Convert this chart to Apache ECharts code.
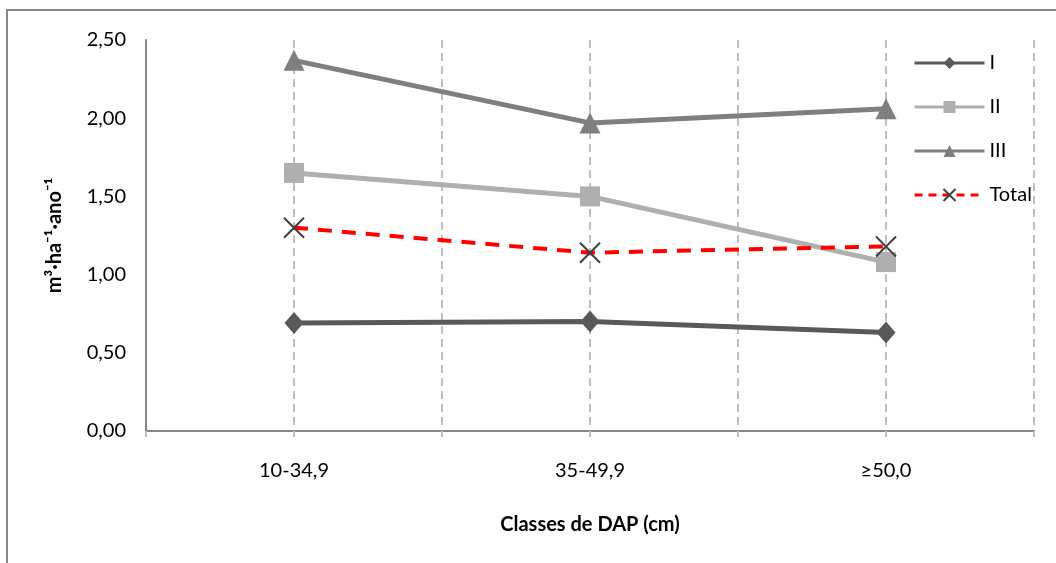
<!DOCTYPE html>
<html>
<head>
<meta charset="utf-8">
<script src="https://cdn.jsdelivr.net/npm/echarts@6/dist/echarts.min.js"></script>
<style>html,body{margin:0;padding:0;background:#fff;}#c{width:1056px;height:563px;}</style>
</head>
<body>
<div id="c"></div>
<script>
const categories = ['10-34,9', '35-49,9', '≥50,0'];
const serieI = [0.69, 0.70, 0.63];
const serieII = [1.65, 1.50, 1.08];
const serieIII = [2.37, 1.97, 2.06];
const serieTotal = [1.30, 1.14, 1.18];
const yTicks = [0, 0.5, 1, 1.5, 2, 2.5];

const FONT = 'Lato';
const xPath = 'path://M0,0L10,10M10,0L0,10';

const chart = echarts.init(document.getElementById('c'), null, {renderer: 'canvas'});
chart.setOption({
  animation: false,
  backgroundColor: '#fff',
  textStyle: {fontFamily: FONT},
  graphic: [{
    type: 'rect', silent: true, z: -1,
    shape: {x: 7, y: 10, width: 1200, height: 800},
    style: {fill: 'none', stroke: '#8c8c8c', lineWidth: 2}
  }],
  grid: {left: 146, right: 22, top: 40, bottom: 132},
  legend: {
    orient: 'vertical', left: 908, top: 48,
    itemWidth: 70, itemHeight: 15, itemGap: 24,
    textStyle: {fontFamily: FONT, fontSize: 20, color: '#000', lineHeight: 20},
    data: [
      {name: 'I', lineStyle: {width: 3}},
      {name: 'II', lineStyle: {width: 3}},
      {name: 'III', lineStyle: {width: 3}},
      {name: 'Total', lineStyle: {width: 3, type: [8, 6]}}
    ]
  },
  xAxis: [{
    type: 'category', data: categories, boundaryGap: true,
    axisLine: {show: true, lineStyle: {color: '#868686', width: 2}},
    axisTick: {show: false},
    splitLine: {show: false},
    axisLabel: {fontFamily: FONT, fontSize: 20, color: '#000', margin: 30},
    name: 'Classes de DAP (cm)', nameLocation: 'middle', nameGap: 84,
    nameTextStyle: {fontFamily: FONT, fontSize: 20, fontWeight: 'bold', color: '#000'}
  }, {
    type: 'value', min: 0, max: 6, interval: 1, position: 'bottom',
    axisLine: {show: false},
    axisLabel: {show: false},
    axisTick: {show: true, length: 6, lineStyle: {color: '#bfbfbf', width: 2}},
    splitLine: {show: true, lineStyle: {color: '#bfbfbf', width: 2, type: [8, 5]}}
  }],
  yAxis: {
    type: 'value', min: yTicks[0], max: yTicks[yTicks.length - 1], interval: 0.5,
    axisLine: {show: true, lineStyle: {color: '#868686', width: 2}},
    axisTick: {show: false},
    splitLine: {show: false},
    axisLabel: {
      fontFamily: FONT, fontSize: 20, color: '#000', margin: 20,
      formatter: v => v.toFixed(2).replace('.', ',')
    },
    name: 'm³·ha⁻¹·ano⁻¹', nameLocation: 'middle', nameGap: 81,
    nameTextStyle: {fontFamily: FONT, fontSize: 20, fontWeight: 'bold', color: '#000'}
  },
  series: [
    {
      name: 'I', type: 'line', data: serieI, xAxisIndex: 0,
      symbol: 'diamond', symbolSize: [19, 22],
      lineStyle: {color: '#595959', width: 5},
      itemStyle: {color: '#595959'}, z: 3
    },
    {
      name: 'II', type: 'line', data: serieII, xAxisIndex: 0,
      symbol: 'rect', symbolSize: 20,
      lineStyle: {color: '#afafaf', width: 5},
      itemStyle: {color: '#afafaf'}, z: 3
    },
    {
      name: 'III', type: 'line', data: serieIII, xAxisIndex: 0,
      symbol: 'triangle', symbolSize: 21,
      lineStyle: {color: '#7f7f7f', width: 5},
      itemStyle: {color: '#7f7f7f'}, z: 3
    },
    {
      name: 'Total', type: 'line', data: serieTotal, xAxisIndex: 0,
      symbol: xPath, symbolSize: 20, symbolKeepAspect: true,
      lineStyle: {color: '#ff0000', width: 4, type: [14, 10]},
      itemStyle: {color: 'rgba(0,0,0,0)', borderColor: '#404040', borderWidth: 2}, z: 4
    }
  ]
});
</script>
</body>
</html>
